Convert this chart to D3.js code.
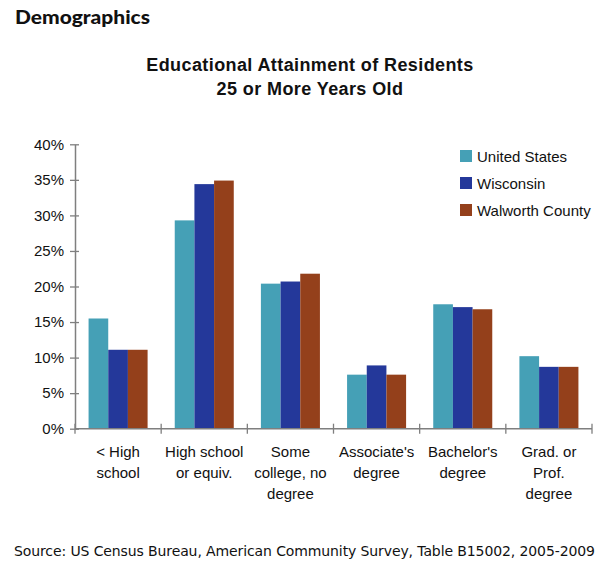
<!DOCTYPE html>
<html>
<head>
<meta charset="utf-8">
<script src="https://cdn.jsdelivr.net/npm/d3@7"></script>
<style>
  body { margin: 0; background: #fff; }
  svg { display: block; }
</style>
</head>
<body>
<div id="chart"></div>
<script>
// data
var categories = ["< High school", "High school or equiv.", "Some college, no degree", "Associate's degree", "Bachelor's degree", "Grad. or Prof. degree"];
var categoryLines = [["< High", "school"], ["High school", "or equiv."], ["Some", "college, no", "degree"], ["Associate's", "degree"], ["Bachelor's", "degree"], ["Grad. or", "Prof.", "degree"]];
var seriesNames = ["United States", "Wisconsin", "Walworth County"];
var usValues = [15.5, 29.3, 20.4, 7.6, 17.5, 10.2];
var wiValues = [11.1, 34.4, 20.7, 8.9, 17.1, 8.7];
var wcValues = [11.1, 34.9, 21.8, 7.6, 16.8, 8.7];
var yTicks = [0, 5, 10, 15, 20, 25, 30, 35, 40];

var width = 609;
var height = 569;
var margin = { top: 144.3, right: 17, bottom: 140.3, left: 75 };

var svg = d3.select("#chart").append("svg")
    .attr("width", width)
    .attr("height", height);

var seriesValues = [usValues, wiValues, wcValues];
var data = categories.map(function (c, i) {
    var row = { category: c };
    seriesNames.forEach(function (s, j) { row[s] = seriesValues[j][i]; });
    return row;
});

var color = d3.scaleOrdinal()
    .domain(seriesNames)
    .range(["#45a0b6", "#24389a", "#94401b"]);

// Headline
svg.append("text")
    .attr("x", 15)
    .attr("y", 24)
    .style("font-family", "Lato, 'Open Sans', sans-serif")
    .style("font-weight", "900")
    .style("font-size", "19.5px")
    .attr("textLength", 135)
    .attr("lengthAdjust", "spacingAndGlyphs")
    .attr("fill", "#111")
    .text("Demographics");

// Chart title
var title = svg.append("text")
    .attr("text-anchor", "middle")
    .style("font-family", "'Liberation Sans', Arial, sans-serif")
    .style("font-weight", "bold")
    .style("font-size", "18px")
    .style("letter-spacing", "0.4px")
    .attr("fill", "#111");
title.append("tspan").attr("x", 310).attr("y", 71).text("Educational Attainment of Residents");
title.append("tspan").attr("x", 310).attr("y", 95).text("25 or More Years Old");

var plotW = width - margin.left - margin.right;
var plotH = height - margin.top - margin.bottom;

var g = svg.append("g")
    .attr("transform", "translate(" + margin.left + "," + margin.top + ")");

var x0 = d3.scaleBand()
    .domain(categories)
    .range([0, plotW])
    .padding(0);

var x1 = d3.scaleBand()
    .domain(seriesNames)
    .range([0, x0.bandwidth()])
    .paddingInner(0)
    .paddingOuter(0.69);

var y = d3.scaleLinear()
    .domain([0, 40])
    .range([plotH, 0]);

// bars
g.append("g").selectAll("g")
    .data(data)
    .enter().append("g")
    .attr("transform", function (d) { return "translate(" + x0(d.category) + ",0)"; })
    .selectAll("rect")
    .data(function (d) { return seriesNames.map(function (s) { return { key: s, value: d[s] }; }); })
    .enter().append("rect")
    .attr("x", function (d) { return x1(d.key); })
    .attr("y", function (d) { return y(d.value); })
    .attr("width", x1.bandwidth())
    .attr("height", function (d) { return plotH - y(d.value); })
    .attr("fill", function (d) { return color(d.key); });

// y axis
var yAxis = g.append("g")
    .call(d3.axisLeft(y)
        .tickValues(yTicks)
        .tickFormat(function (d) { return d + "%"; })
        .tickSizeInner(0)
        .tickSizeOuter(0)
        .tickPadding(11));
yAxis.select(".domain").attr("stroke", "#7f7f7f").attr("stroke-width", 1.5);
yAxis.selectAll(".tick line")
    .attr("x1", -5).attr("x2", 4)
    .attr("stroke", "#7f7f7f").attr("stroke-width", 1.3);
yAxis.selectAll(".tick text")
    .style("font-family", "'Liberation Sans', Arial, sans-serif")
    .style("font-size", "15px")
    .attr("fill", "#111");

// x axis
var xAxis = g.append("g")
    .attr("transform", "translate(0," + plotH + ")");
xAxis.append("line")
    .attr("x1", 0).attr("x2", plotW)
    .attr("stroke", "#7f7f7f").attr("stroke-width", 1.5);
var boundaries = categories.map(function (c) { return x0(c); }).concat([plotW]);
xAxis.selectAll(".xtick")
    .data(boundaries)
    .enter().append("line")
    .attr("class", "xtick")
    .attr("x1", function (d) { return d; })
    .attr("x2", function (d) { return d; })
    .attr("y1", -5).attr("y2", 5)
    .attr("stroke", "#7f7f7f").attr("stroke-width", 1.3);

var labels = xAxis.selectAll(".xlabel")
    .data(categoryLines)
    .enter().append("text")
    .attr("class", "xlabel")
    .attr("text-anchor", "middle")
    .style("font-family", "'Liberation Sans', Arial, sans-serif")
    .style("font-size", "15px")
    .attr("fill", "#111");
labels.each(function (lines, i) {
    var t = d3.select(this);
    var cx = x0(categories[i]) + x0.bandwidth() / 2;
    lines.forEach(function (line, k) {
        t.append("tspan")
            .attr("x", cx)
            .attr("y", 28 + k * 21)
            .text(line);
    });
});

// legend
var legend = svg.append("g")
    .attr("transform", "translate(460,150)");
var items = legend.selectAll("g")
    .data(seriesNames)
    .enter().append("g")
    .attr("transform", function (d, i) { return "translate(0," + (i * 27) + ")"; });
items.append("rect")
    .attr("width", 12)
    .attr("height", 12)
    .attr("fill", function (d) { return color(d); });
items.append("text")
    .attr("x", 17)
    .attr("y", 11.5)
    .style("font-family", "'Liberation Sans', Arial, sans-serif")
    .style("font-size", "15px")
    .attr("fill", "#111")
    .text(function (d) { return d; });

// source line
svg.append("text")
    .attr("x", 14)
    .attr("y", 556)
    .style("font-family", "'DejaVu Sans', sans-serif")
    .style("font-size", "14px")
    .attr("textLength", 581)
    .attr("lengthAdjust", "spacing")
    .attr("fill", "#111")
    .text("Source: US Census Bureau, American Community Survey, Table B15002, 2005-2009");
</script>
</body>
</html>
